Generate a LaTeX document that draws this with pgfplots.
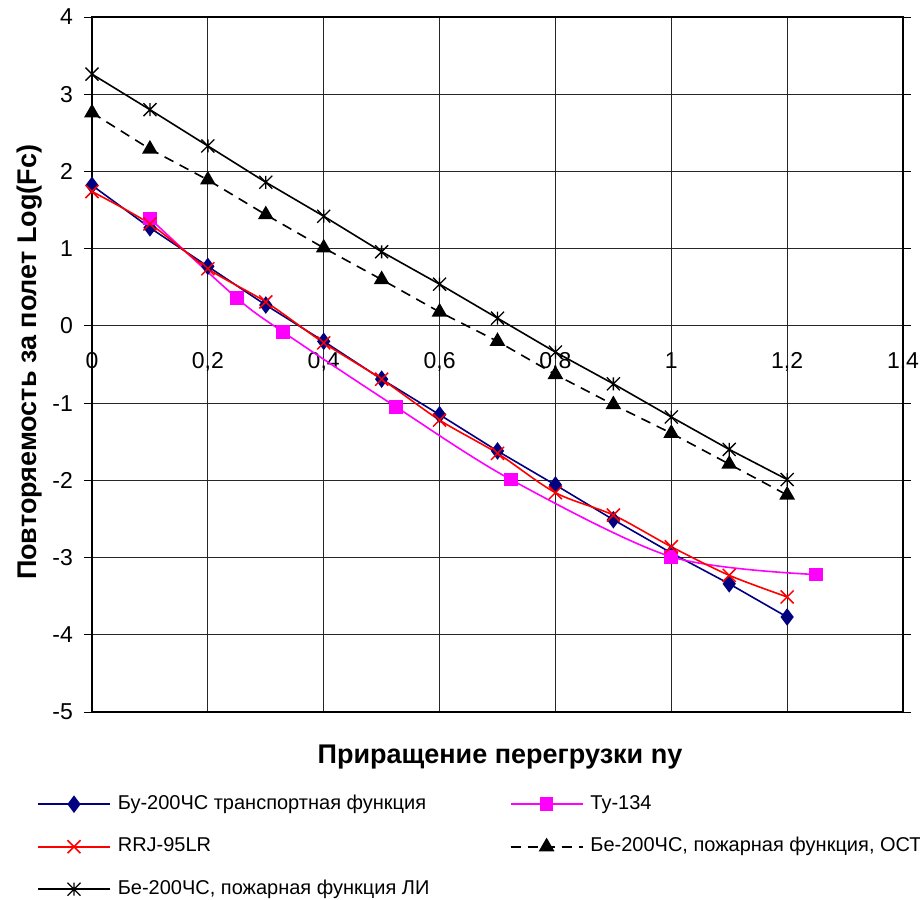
\documentclass[border=0pt]{standalone}
\usepackage{fontspec}
\setmainfont{Liberation Sans}
\usepackage{pgfplots}
\pgfplotsset{compat=1.18}

\definecolor{navyline}{HTML}{000080}
\definecolor{pinkline}{HTML}{FF00FF}
\definecolor{redline}{HTML}{FF0000}

% Excel-style star: an x with a vertical bar
\pgfdeclareplotmark{xstar}{%
  \pgfpathmoveto{\pgfqpoint{-\pgfplotmarksize}{-\pgfplotmarksize}}%
  \pgfpathlineto{\pgfqpoint{\pgfplotmarksize}{\pgfplotmarksize}}%
  \pgfpathmoveto{\pgfqpoint{-\pgfplotmarksize}{\pgfplotmarksize}}%
  \pgfpathlineto{\pgfqpoint{\pgfplotmarksize}{-\pgfplotmarksize}}%
  \pgfpathmoveto{\pgfqpoint{0pt}{-\pgfplotmarksize}}%
  \pgfpathlineto{\pgfqpoint{0pt}{\pgfplotmarksize}}%
  \pgfusepathqstroke}

% plain x, drawn at full size
\pgfdeclareplotmark{bigx}{%
  \pgfpathmoveto{\pgfqpoint{-\pgfplotmarksize}{-\pgfplotmarksize}}%
  \pgfpathlineto{\pgfqpoint{\pgfplotmarksize}{\pgfplotmarksize}}%
  \pgfpathmoveto{\pgfqpoint{-\pgfplotmarksize}{\pgfplotmarksize}}%
  \pgfpathlineto{\pgfqpoint{\pgfplotmarksize}{-\pgfplotmarksize}}%
  \pgfusepathqstroke}

\begin{document}
\begin{tikzpicture}
\useasboundingbox (-92pt,-187pt) rectangle (828pt,712pt);
\begin{axis}[
  scale only axis,
  width=811pt, height=695pt,
  xmin=0, xmax=1.4, ymin=-5, ymax=4,
  xtick={0,0.2,0.4,0.6,0.8,1,1.2,1.4},
  ytick={-5,-4,-3,-2,-1,0,1,2,3,4},
  grid=major,
  grid style={black!85, line width=0.9pt},
  axis line style={black, line width=1.2pt},
  tick align=outside, major tick length=8pt,
  xtick style={draw=none},
  ytick style={black, line width=0.9pt},
  /pgf/number format/assume math mode=true,
  /pgf/number format/use comma,
  ticklabel style={font=\fontsize{23}{27}\selectfont},
  xticklabel style={inner sep=0pt, anchor=north, yshift=368pt},
  yticklabel style={inner sep=0pt, xshift=-11pt},
  xlabel={Приращение перегрузки  ny},
  ylabel={Повторяемость за полет  Log(Fc)},
  every axis x label/.style={at={(axis description cs:0.503,-0.0647)}, anchor=center,
    font=\fontsize{27}{31}\selectfont\bfseries},
  every axis y label/.style={at={(axis description cs:-0.0765,0.503)}, rotate=90, anchor=center,
    font=\fontsize{27}{31}\selectfont\bfseries},
  legend columns=2,
  legend cell align=left,
  legend style={at={(axis description cs:-0.0678,-0.118)}, anchor=north west,
    draw=none, fill=none, inner sep=0pt, column sep=7pt, row sep=22.5pt,
    font=\fontsize{20}{24}\selectfont,
    nodes={inner sep=0pt, text height=15pt, text depth=5pt}},
  legend image code/.code={%
    \draw[mark repeat=2, mark phase=2, #1] plot coordinates {(0pt,0pt) (36pt,0pt) (72pt,0pt)};},
]

% Бу-200ЧС транспортная функция
\addplot[navyline, line width=1.6pt, mark=diamond*, mark size=7.5pt,
  mark options={solid, fill=navyline}] coordinates {
  (0,1.82) (0.1,1.27) (0.2,0.77) (0.3,0.27) (0.4,-0.2) (0.5,-0.69)
  (0.6,-1.15) (0.7,-1.62) (0.8,-2.06) (0.9,-2.51) (1.0,-2.94)
  (1.1,-3.34) (1.2,-3.77)
};
\addlegendentry{\makebox[385pt][l]{Бу-200ЧС транспортная функция}}

% Ту-134
\addplot[pinkline, line width=1.6pt, smooth, mark=square*, mark size=6pt,
  mark options={solid, fill=pinkline}] coordinates {
  (0.1,1.39) (0.25,0.36) (0.33,-0.08) (0.525,-1.05) (0.723,-1.99)
  (1.0,-2.99) (1.25,-3.22)
};
\addlegendentry{Ту-134}

% RRJ-95LR
\addplot[redline, line width=1.6pt, smooth, mark=bigx, mark size=6.5pt,
  mark options={solid, line width=1.5pt}] coordinates {
  (0,1.74) (0.1,1.32) (0.2,0.74) (0.3,0.31) (0.4,-0.22) (0.5,-0.69)
  (0.6,-1.22) (0.7,-1.65) (0.8,-2.16) (0.9,-2.45) (1.0,-2.86)
  (1.1,-3.23) (1.2,-3.51)
};
\addlegendentry{\makebox[385pt][l]{RRJ-95LR}}

% Бе-200ЧС, пожарная функция, ОСТ
\addplot[black, line width=1.6pt, dash pattern=on 10pt off 7pt, mark=triangle*,
  mark size=7.5pt, mark options={solid, fill=black}] coordinates {
  (0,2.76) (0.1,2.29) (0.2,1.89) (0.3,1.44) (0.4,1.01) (0.5,0.6)
  (0.6,0.18) (0.7,-0.2) (0.8,-0.63) (0.9,-1.02) (1.0,-1.39)
  (1.1,-1.79) (1.2,-2.19)
};
\addlegendentry{Бе-200ЧС, пожарная функция, ОСТ}

% Бе-200ЧС, пожарная функция ЛИ
\addplot[black, line width=1.6pt, mark=xstar, mark size=6.5pt,
  mark options={solid, line width=1.3pt}] coordinates {
  (0,3.26) (0.1,2.8) (0.2,2.33) (0.3,1.86) (0.4,1.42) (0.5,0.96)
  (0.6,0.54) (0.7,0.1) (0.8,-0.34) (0.9,-0.75) (1.0,-1.18)
  (1.1,-1.6) (1.2,-1.99)
};
\addlegendentry{\makebox[385pt][l]{Бе-200ЧС, пожарная функция ЛИ}}

\end{axis}
\end{tikzpicture}
\end{document}
